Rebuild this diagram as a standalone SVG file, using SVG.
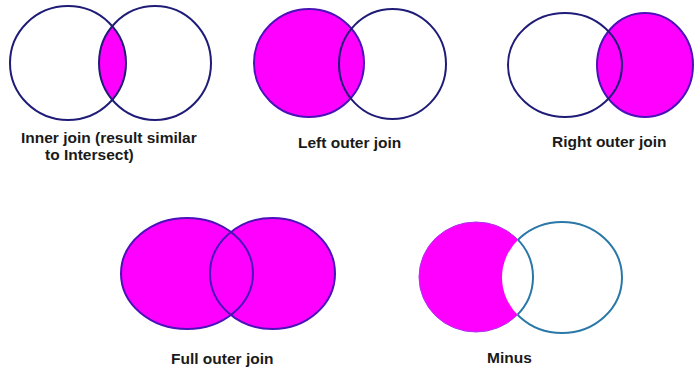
<svg xmlns="http://www.w3.org/2000/svg" width="694" height="368" viewBox="0 0 694 368">
<style>
.lbl{font-family:"Liberation Sans",Arial,sans-serif;font-size:15.5px;font-weight:bold;fill:#1a1a1a}
.navy{fill:none;stroke:#1f1c78;stroke-width:2}
.purp{fill:none;stroke:#4a12b8;stroke-width:2}
.teal{fill:none;stroke:#2a78a8;stroke-width:2}
.mag{fill:#ff00ff}
</style>
<defs>
<clipPath id="ciR"><ellipse cx="155" cy="63" rx="56" ry="57"/></clipPath>
<clipPath id="cmL"><ellipse cx="476" cy="277" rx="57" ry="55"/></clipPath>
<clipPath id="cmR"><ellipse cx="562" cy="277.5" rx="60" ry="55.5"/></clipPath>
</defs>
<rect width="694" height="368" fill="#fff"/>

<g id="inner-join">
<ellipse class="mag" cx="68" cy="63" rx="58" ry="57" clip-path="url(#ciR)"/>
<ellipse class="navy" cx="68" cy="63" rx="58" ry="57"/>
<ellipse class="navy" cx="155" cy="63" rx="56" ry="57"/>
<text class="lbl" x="21" y="143">Inner join (result similar</text>
<text class="lbl" x="45" y="160">to Intersect)</text>
</g>

<g id="left-outer-join">
<ellipse class="mag" cx="309" cy="63" rx="55" ry="54"/>
<ellipse class="purp" cx="309" cy="63" rx="55" ry="54"/>
<ellipse class="navy" cx="392.5" cy="64" rx="53.5" ry="55"/>
<text class="lbl" x="298" y="148">Left outer join</text>
</g>

<g id="right-outer-join">
<ellipse class="mag" cx="645" cy="65" rx="48" ry="52"/>
<ellipse class="purp" cx="645" cy="65" rx="48" ry="52"/>
<ellipse class="navy" cx="565" cy="65" rx="57" ry="52"/>
<text class="lbl" x="552" y="147">Right outer join</text>
</g>

<g id="full-outer-join">
<ellipse class="mag" cx="187" cy="273.5" rx="66" ry="55.5"/>
<ellipse class="mag" cx="272.5" cy="273.5" rx="62.5" ry="55.5"/>
<ellipse class="purp" cx="187" cy="273.5" rx="66" ry="55.5"/>
<ellipse class="purp" cx="272.5" cy="273.5" rx="62.5" ry="55.5"/>
<text class="lbl" x="171" y="364">Full outer join</text>
</g>

<g id="minus">
<ellipse class="teal" cx="562" cy="277.5" rx="60" ry="55.5"/>
<ellipse cx="476" cy="277" rx="57" ry="55" fill="#ff00ff" stroke="#b030f0" stroke-width="1"/>
<ellipse cx="562" cy="277.5" rx="60" ry="55.5" fill="#fff" clip-path="url(#cmL)"/>
<ellipse class="teal" cx="476" cy="277" rx="57" ry="55" clip-path="url(#cmR)"/>
<text class="lbl" x="487" y="363">Minus</text>
</g>

<g id="connectors"></g>
</svg>
